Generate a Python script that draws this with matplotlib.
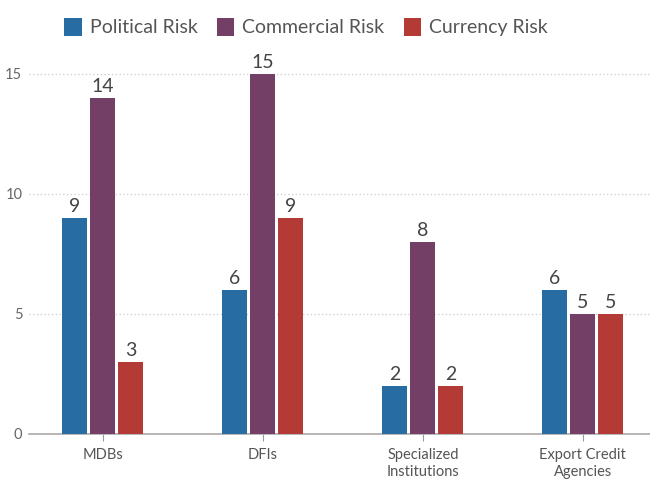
import numpy as np
import matplotlib.pyplot as plt

plt.rcParams['font.family'] = ['Lato', 'DejaVu Sans']

categories = ["MDBs", "DFIs", "Specialized\nInstitutions", "Export Credit\nAgencies"]
political = [9, 6, 2, 6]
commercial = [14, 15, 8, 5]
currency = [3, 9, 2, 5]

series = [("Political Risk", political, "#276ca3"),
          ("Commercial Risk", commercial, "#743f67"),
          ("Currency Risk", currency, "#b43a35")]

fig = plt.figure(figsize=(6.5, 4.79), dpi=100)
ax = fig.add_axes([0.045, 0.094, 0.955, 0.777])

x = np.arange(len(categories))
w = 0.156
pitch = 0.175
for i, (name, vals, col) in enumerate(series):
    pos = x + (i - 1) * pitch
    bars = ax.bar(pos, vals, width=w, color=col, label=name, zorder=3)
    for b, v in zip(bars, vals):
        ax.annotate(str(v), (b.get_x() + b.get_width() / 2, v),
                    xytext=(0, 2), textcoords="offset points",
                    ha="center", va="bottom", fontsize=14, color="#444444")

ax.set_xlim(-0.46, 3.42)
ax.set_ylim(0, 15.5)
ax.set_yticks([0, 5, 10, 15])
ax.yaxis.grid(True, linestyle=(0, (1, 2)), color="#cccccc", linewidth=0.9, zorder=0)
ax.set_xticks(x)
ax.set_xticklabels(categories, fontsize=10.5, color="#555555", linespacing=1.25)
ax.tick_params(axis="x", length=5, color="#999999", pad=5)
ax.tick_params(axis="y", length=0, labelsize=10.5, labelcolor="#666666", pad=5)

for s in ["top", "right", "left"]:
    ax.spines[s].set_visible(False)
ax.spines["bottom"].set_color("#aaaaaa")
ax.spines["bottom"].set_linewidth(1.2)

fig.legend(loc="upper left", bbox_to_anchor=(0.072, 1.0), ncol=3, frameon=False,
           fontsize=14, handlelength=0.9, handleheight=1.1, handletextpad=0.4,
           columnspacing=1.0, labelcolor="#555555")

fig.savefig("out.png", dpi=100)
